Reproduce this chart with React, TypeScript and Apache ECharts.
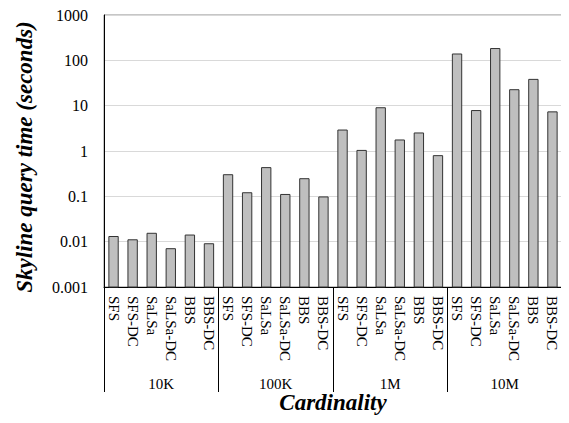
import React, { useEffect, useRef } from "react";
import * as echarts from "echarts";

const categories = ["SFS", "SFS-DC", "SaLSa", "SaLSa-DC", "BBS", "BBS-DC"];
const groups = ["10K", "100K", "1M", "10M"];
const values10K = [0.013, 0.011, 0.0153, 0.007, 0.014, 0.009];
const values100K = [0.3, 0.12, 0.43, 0.11, 0.245, 0.097];
const values1M = [2.9, 1.03, 9.0, 1.75, 2.5, 0.79];
const values10M = [138, 7.8, 182, 22.5, 38, 7.3];
const yTickLabels = ["0.001", "0.01", "0.1", "1", "10", "100", "1000"];
const yMin = 0.001;
const yMax = 1000;
const yTitle = "Skyline query time (seconds)";
const xTitle = "Cardinality";

const FONT = "Liberation Serif";

export default function App() {
  const ref = useRef<HTMLDivElement>(null);
  useEffect(() => {
    if (!ref.current) return;
    const chart = echarts.init(ref.current, undefined, { renderer: "svg" });
    const xKeys: string[] = [];
    groups.forEach((g) => categories.forEach((c) => xKeys.push(g + "|" + c)));
    const values = [...values10K, ...values100K, ...values1M, ...values10M];
    const data = values.map((v, i) => [i, v]);
    chart.setOption({
      animation: false,
      backgroundColor: "#ffffff",
      textStyle: { fontFamily: FONT },
      grid: {
        left: 104,
        right: 7,
        top: 15,
        bottom: 136,
        show: true,
        borderColor: "#8c8c8c",
        borderWidth: 1,
      },
      xAxis: [
        {
          type: "category",
          data: xKeys,
          position: "bottom",
          axisLine: { show: true, lineStyle: { color: "#000", width: 1 } },
          axisTick: { show: false },
          splitLine: { show: false },
          axisLabel: {
            interval: 0,
            rotate: -90,
            margin: 9,
            color: "#000",
            fontFamily: FONT,
            fontSize: 15,
            formatter: (v: string) => v.split("|")[1],
          },
        },
        {
          type: "category",
          data: groups,
          position: "bottom",
          offset: 0,
          axisLine: { show: false },
          axisTick: {
            show: true,
            length: 105,
            lineStyle: { color: "#000", width: 1 },
          },
          splitLine: { show: false },
          axisLabel: {
            interval: 0,
            margin: 89,
            color: "#000",
            fontFamily: FONT,
            fontSize: 15,
          },
        },
      ],
      yAxis: {
        type: "log",
        logBase: 10,
        min: yMin,
        max: yMax,
        axisLine: { show: true, lineStyle: { color: "#000", width: 1 } },
        axisTick: { show: false },
        splitLine: { show: true, lineStyle: { color: "#d9d9d9", width: 1 } },
        axisLabel: {
          color: "#000",
          fontFamily: FONT,
          fontSize: 16,
          margin: 16,
          formatter: (v: number) => {
            const e = Math.round(Math.log10(v));
            return yTickLabels[e + 3] ?? "";
          },
        },
      },
      series: [
        {
          type: "custom",
          xAxisIndex: 0,
          yAxisIndex: 0,
          encode: { x: 0, y: 1 },
          data,
          renderItem: (params: any, api: any) => {
            const idx = api.value(0);
            const v = api.value(1);
            const top = api.coord([idx, v]);
            const bottom = api.coord([idx, yMin]);
            const band = api.size([1, 1])[0];
            const w = band * 0.49;
            return {
              type: "rect",
              shape: {
                x: top[0] - w / 2,
                y: top[1],
                width: w,
                height: bottom[1] - top[1],
              },
              style: {
                fill: "#bfbfbf",
                stroke: "#333333",
                lineWidth: 1,
              },
            };
          },
        },
      ],
      graphic: [
        {
          type: "text",
          x: 24,
          y: 157,
          rotation: Math.PI / 2,
          style: {
            text: yTitle,
            fontFamily: FONT,
            fontSize: 23,
            fontWeight: "bold",
            fontStyle: "italic",
            fill: "#000",
            align: "center",
            verticalAlign: "middle",
          },
        },
        {
          type: "text",
          x: 333,
          y: 402,
          style: {
            text: xTitle,
            fontFamily: FONT,
            fontSize: 23,
            fontWeight: "bold",
            fontStyle: "italic",
            fill: "#000",
            align: "center",
            verticalAlign: "middle",
          },
        },
      ],
    });
    return () => chart.dispose();
  }, []);
  return <div ref={ref} style={{ width: 569, height: 423, margin: -8 }} />;
}
